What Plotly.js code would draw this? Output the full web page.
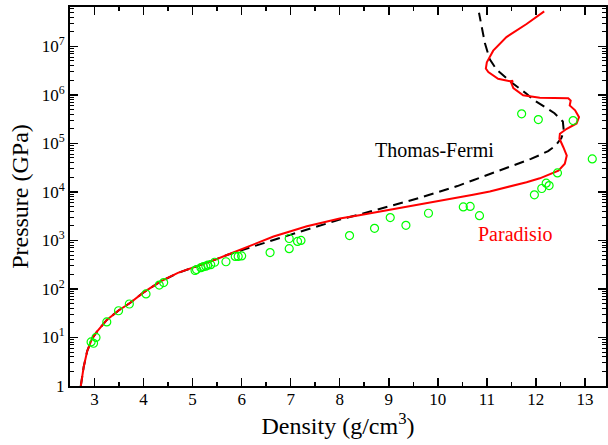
<!DOCTYPE html>
<html>
<head>
<meta charset="utf-8">
<script src="https://cdn.plot.ly/plotly-3.0.1.min.js"></script>
<style>html,body{margin:0;padding:0;background:#fff;}#chart{width:608px;height:445px;}</style>
</head>
<body>
<div id="chart"></div>
<script>
// Paradisio curve (density g/cm3, pressure GPa)
var paradisioDensity = [2.72,2.75,2.78,2.85,2.95,3.05,3.25,3.49,3.73,4.0,4.34,4.7,5.02,5.4,5.70,5.97,6.3,6.65,7.0,7.33,7.7,8.0,8.4,8.69,9.0,9.36,9.7,10.04,10.4,10.72,11.06,11.40,11.81,12.08,12.30,12.46,12.59,12.63,12.56,12.48,12.49,12.63,12.83,12.88,12.80,12.69,12.71,12.66,12.08,11.74,11.54,11.50,11.53,11.47,11.23,11.03,10.98,11.00,11.13,11.40,11.81,12.17];
var paradisioPressure = [1,1.58,2.5,5.2,9.5,13.2,23,36,52,85,141,214,275,380,500,646,871,1202,1549,1950,2400,2820,3310,3720,4270,4900,5620,6460,7590,8710,10200,12300,15850,19050,23400,27500,38000,56200,83200,126000,158000,200000,257000,347000,479000,603000,759000,851000,871000,977000,1380000,1740000,1950000,1910000,2140000,2950000,3470000,4680000,8130000,15500000,28800000,52500000];

// Thomas-Fermi curve
var tfDensity = [2.72,2.75,2.78,2.85,2.95,3.05,3.25,3.49,3.73,4.0,4.34,4.7,5.02,5.4,5.70,5.97,6.3,6.65,7.0,7.33,7.7,8.0,8.35,8.69,9.0,9.36,9.7,10.04,10.4,10.72,11.1,11.40,11.67,11.9,12.08,12.25,12.40,12.52,12.57,12.55,12.38,12.22,11.95,11.81,11.47,11.20,11.06,10.96,10.89,10.84];
var tfPressure = [1,1.58,2.5,5.2,9.5,13.2,23,36,52,85,141,214,275,380,500,617,794,1023,1318,1660,2138,2692,3311,4074,5012,6310,7943,10000,13180,17380,23990,31620,39810,47860,57540,69180,89130,129000,178000,282000,417000,537000,794000,1050000,1910000,3310000,5370000,11700000,25700000,49000000];

// Experimental points
var expDensity = [2.93,2.98,3.03,3.25,3.49,3.71,4.05,4.32,4.41,5.05,5.08,5.17,5.22,5.27,5.31,5.37,5.45,5.68,5.87,5.93,6.00,6.58,6.97,6.97,7.14,7.21,8.20,8.71,9.03,9.35,9.81,10.52,10.66,10.85,11.97,12.12,12.21,12.27,12.44,11.71,12.05,12.76,13.15];
var expPressure = [8.1,7.6,10,20.9,35.5,49,79,120,135,240,251,275,288,295,309,316,355,363,468,468,479,562,676,1096,955,1000,1259,1778,2951,2042,3631,4898,5012,3236,8710,11750,15140,13490,24550,407000,309000,295000,47860];

var yTickVals = [1,10,100,1000,10000,100000,1000000,10000000];
var yTickText = ['1','10<sup>1</sup>','10<sup>2</sup>','10<sup>3</sup>','10<sup>4</sup>','10<sup>5</sup>','10<sup>6</sup>','10<sup>7</sup>'];

// minor log tick positions (2..9 within each decade)
var yMinorVals = [];
for (var d = 0; d < 8; d++) {
  for (var m = 2; m <= 9; m++) {
    var v = m * Math.pow(10, d);
    if (Math.log10(v) <= 7.81) yMinorVals.push(v);
  }
}

var font = 'Liberation Serif';

var traces = [
  {x: tfDensity, y: tfPressure, mode: 'lines', line: {color: '#000', width: 2, dash: '10px,6px'}, hoverinfo: 'none'},
  {x: paradisioDensity, y: paradisioPressure, mode: 'lines', line: {color: '#ff0000', width: 2}, hoverinfo: 'none'},
  {x: expDensity, y: expPressure, mode: 'markers', marker: {symbol: 'circle-open', size: 8, color: '#00ff00', line: {width: 1.2, color: '#00ff00'}}, hoverinfo: 'none'}
];

var layout = {
  width: 608, height: 445,
  margin: {l: 70, r: 2, t: 7, b: 59},
  paper_bgcolor: '#fff', plot_bgcolor: '#fff',
  showlegend: false,
  font: {family: font, color: '#000', size: 17},
  xaxis: {
    range: [2.5, 13.43], dtick: 1, tick0: 0,
    ticks: 'inside', ticklen: 8, tickwidth: 1.5, tickcolor: '#000',
    minor: {dtick: 0.5, ticks: 'inside', ticklen: 4, tickwidth: 1.5, tickcolor: '#000'},
    showline: true, linewidth: 2, linecolor: '#000', mirror: 'allticks',
    showgrid: false, zeroline: false,
    ticklabelstandoff: -3,
    tickfont: {family: font, size: 17, color: '#000'},
    title: {text: 'Density (g/cm<sup>3</sup>)', font: {family: font, size: 24, color: '#000'}, standoff: 0}
  },
  yaxis: {
    type: 'log', range: [0, 7.81],
    tickmode: 'array', tickvals: yTickVals, ticktext: yTickText,
    ticks: 'inside', ticklen: 8, tickwidth: 1.5, tickcolor: '#000',
    minor: {tickmode: 'array', tickvals: yMinorVals, ticks: 'inside', ticklen: 4, tickwidth: 1, tickcolor: '#000'},
    showline: true, linewidth: 2, linecolor: '#000', mirror: 'allticks',
    showgrid: false, zeroline: false,
    tickfont: {family: font, size: 17, color: '#000'},
    title: {text: 'Pressure (GPa)', font: {family: font, size: 24, color: '#000'}, standoff: 6}
  },
  annotations: [
    {x: 9.93, y: 4.87, xref: 'x', yref: 'y', text: 'Thomas-Fermi', showarrow: false, font: {family: font, size: 20, color: '#000'}},
    {x: 11.57, y: 3.13, xref: 'x', yref: 'y', text: 'Paradisio', showarrow: false, font: {family: font, size: 20, color: '#ff0000'}}
  ]
};

Plotly.newPlot('chart', traces, layout, {displayModeBar: false, staticPlot: true});
</script>
</body>
</html>
